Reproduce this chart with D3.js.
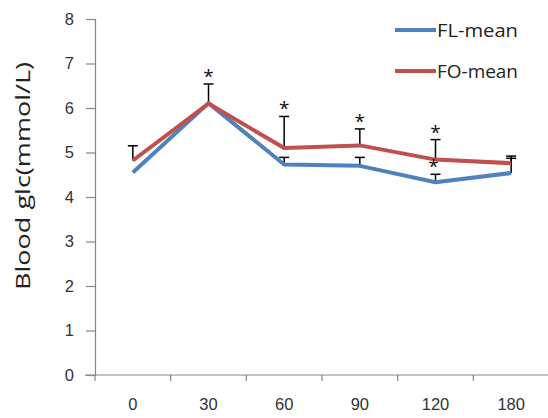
<!DOCTYPE html>
<html>
<head>
<meta charset="utf-8">
<script src="https://cdn.jsdelivr.net/npm/d3@7"></script>
<style>
  html, body { margin: 0; padding: 0; background: #fff; }
  svg { display: block; font-family: "Open Sans", "Noto Sans", sans-serif; }
</style>
</head>
<body>
<svg id="chart" width="548" height="418"></svg>
<script>
// Time points (min) and blood glucose means with upper error bars (SD)
const categories = ["0", "30", "60", "90", "120", "180"];
const flMean = [4.55, 6.11, 4.73, 4.70, 4.33, 4.54];
const foMean = [4.82, 6.10, 5.10, 5.16, 4.84, 4.76];
const flErr  = [0.00, 0.00, 0.16, 0.19, 0.18, 0.33];
const foErr  = [0.33, 0.44, 0.71, 0.37, 0.45, 0.16];
// Significance markers: placed above FO error bar, or on the FO mean
const starsAboveBar = ["30", "60", "90", "120"];
const starsOnMean = ["120"];
const yTicks = [0, 1, 2, 3, 4, 5, 6, 7, 8];
const seriesNames = ["FL-mean", "FO-mean"];
const colors = ["#4F81BD", "#C0504D"];

const svg = d3.select("#chart");
const margin = { left: 95, top: 19, right: 0, bottom: 43 };
const plotW = 454, plotH = 356;

const x = d3.scaleBand().domain(categories).range([margin.left, margin.left + plotW]);
const y = d3.scaleLinear().domain([0, 8]).range([margin.top + plotH, margin.top]);
const cx = c => x(c) + x.bandwidth() / 2;

// Axes
const axisColor = "#868686";
const yAxis = svg.append("g")
  .attr("transform", `translate(${margin.left},0)`)
  .call(d3.axisLeft(y).tickValues(yTicks).tickSize(9).tickPadding(12).tickFormat(d3.format("d")));
const xAxis = svg.append("g")
  .attr("transform", `translate(0,${y(0)})`)
  .call(d3.axisBottom(x).tickSize(0).tickPadding(23));
// X axis ticks sit on band boundaries
xAxis.selectAll(".bnd").data(categories).enter().append("line")
  .attr("x1", d => x(d)).attr("x2", d => x(d))
  .attr("y1", 0).attr("y2", 6);
[yAxis, xAxis].forEach(g => {
  g.select(".domain").attr("stroke", axisColor).attr("stroke-width", 1.2);
  g.selectAll("line").attr("stroke", axisColor).attr("stroke-width", 1.2);
  g.selectAll("text").attr("fill", "#333").style("font-size", "16.5px");
});
xAxis.select(".domain").attr("d", `M${margin.left - 10},0H${margin.left + plotW}`);

// Y title
svg.append("text")
  .attr("transform", "translate(30,176) rotate(-90)")
  .attr("text-anchor", "middle")
  .style("font-size", "20.5px")
  .attr("fill", "#222")
  .attr("textLength", 228)
  .attr("lengthAdjust", "spacingAndGlyphs")
  .text("Blood glc(mmol/L)");

// Error bars (upper only)
function errorBars(means, errs) {
  const g = svg.append("g").attr("stroke", "#000").attr("stroke-width", 1.5);
  categories.forEach((c, i) => {
    if (errs[i] <= 0) return;
    const top = y(means[i] + errs[i]);
    g.append("line").attr("x1", cx(c)).attr("x2", cx(c)).attr("y1", y(means[i])).attr("y2", top);
    g.append("line").attr("x1", cx(c) - 5).attr("x2", cx(c) + 5).attr("y1", top).attr("y2", top);
  });
}
errorBars(flMean, flErr);
errorBars(foMean, foErr);

// Lines
const line = d3.line().x((d, i) => cx(categories[i])).y(d => y(d));
[flMean, foMean].forEach((s, k) => {
  svg.append("path").datum(s)
    .attr("fill", "none").attr("stroke", colors[k])
    .attr("stroke-width", 4).attr("stroke-linejoin", "round")
    .attr("d", line);
});

// Significance stars
const starG = svg.append("g").style("font-size", "19px").attr("fill", "#111").attr("text-anchor", "middle");
starsAboveBar.forEach(c => {
  const i = categories.indexOf(c);
  starG.append("text").attr("x", cx(c)).attr("y", y(foMean[i] + foErr[i]) - 1).text("*");
});
starsOnMean.forEach(c => {
  const i = categories.indexOf(c);
  starG.append("text").attr("x", cx(c) - 2).attr("y", y(foMean[i]) + 13).text("*");
});

// Legend
const legend = svg.append("g");
seriesNames.forEach((n, k) => {
  const ly = 30 + k * 41;
  legend.append("line").attr("x1", 395).attr("x2", 436).attr("y1", ly).attr("y2", ly)
    .attr("stroke", colors[k]).attr("stroke-width", 4);
  legend.append("text").attr("x", 437).attr("y", ly + 7)
    .style("font-size", "18.5px").attr("fill", "#222")
    .attr("textLength", 81).attr("lengthAdjust", "spacingAndGlyphs")
    .text(n);
});
</script>
</body>
</html>
